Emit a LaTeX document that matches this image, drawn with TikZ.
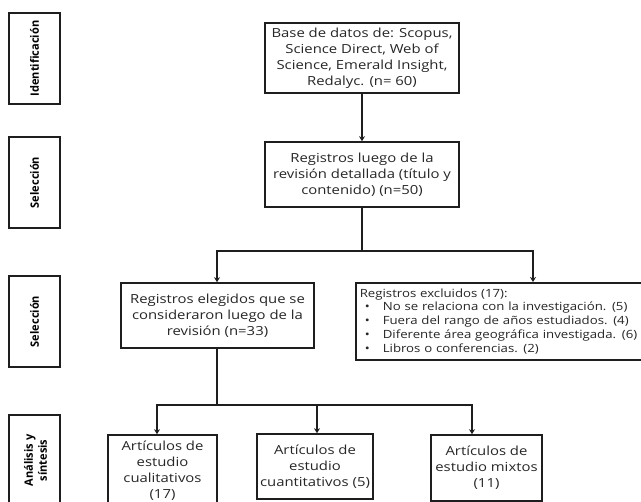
\documentclass[tikz,border=0pt]{standalone}
\usepackage{fontspec}
\setmainfont{Open Sans}
\newfontfamily\wideopen[FakeStretch=1.19]{Open Sans}
\newfontfamily\wideexcl[FakeStretch=1.17]{Open Sans}
\newfontfamily\condbf[FakeStretch=0.96]{Open Sans}
\usetikzlibrary{arrows.meta}
\definecolor{lc}{HTML}{1E1E1E}
\definecolor{tc}{HTML}{262626}
\begin{document}
\begin{tikzpicture}[x=1pt,y=-1pt,
  box/.style={draw=lc, line width=1.6pt, inner sep=0pt, align=center, text=tc,
    font=\wideopen\fontsize{12.5}{16}\selectfont},
  lab/.style={draw=lc, line width=1.6pt, minimum width=51pt, minimum height=91pt, inner sep=0pt},
  labtxt/.style={rotate=90, align=center, text=black, font=\condbf\bfseries\fontsize{11.5}{14}\selectfont},
  ln/.style={draw=lc, line width=1.6pt, line join=miter},
  arr/.style={ln, -{Stealth[length=5pt,width=6pt]}}]
\useasboundingbox (0,0) rectangle (641,502);
% stage labels
\node[lab] (l1) at (34.5,58.5) {};
\node[labtxt] (t1) at (l1.center) {Identificación};
\node[lab] (l2) at (34.5,182.5) {};
\node[labtxt] (t2) at (l2.center) {Selección};
\node[lab] (l3) at (34.5,321.5) {};
\node[labtxt] (t3) at (l3.center) {Selección};
\node[lab] (l4) at (34.5,460.5) {};
\node[labtxt] (t4) at (35.5,460.5) {Análisis y\\síntesis};
% flow boxes
\node[box, minimum width=194pt, minimum height=70pt] (base) at (362,58)
  {Base de datos de: Scopus,\\Science Direct, Web of\\Science, Emerald Insight,\\Redalyc. (n= 60)};
\node[box, minimum width=194pt, minimum height=65pt] (reg) at (362,174.5)
  {Registros luego de la\\revisión detallada (título y\\contenido) (n=50)};
\node[box, minimum width=193pt, minimum height=65pt] (eleg) at (217.5,315.5)
  {Registros elegidos que se\\consideraron luego de la\\revisión (n=33)};
\node[box, anchor=north west, minimum width=300pt, minimum height=77pt, text width=292pt,
  inner xsep=4pt, align=left, font=\wideexcl\fontsize{11.3}{13.7}\selectfont] (excl) at (355,282)
  {Registros excluidos (17):\\
   \hspace*{5pt}\makebox[18pt][l]{\textbullet}No se relaciona con la investigación. (5)\\
   \hspace*{5pt}\makebox[18pt][l]{\textbullet}Fuera del rango de años estudiados. (4)\\
   \hspace*{5pt}\makebox[18pt][l]{\textbullet}Diferente área geográfica investigada. (6)\\
   \hspace*{5pt}\makebox[18pt][l]{\textbullet}Libros o conferencias. (2)};
\node[box, minimum width=109pt, minimum height=71pt] (cual) at (162.5,470.5)
  {Artículos de\\estudio\\cualitativos\\(17)};
\node[box, minimum width=116pt, minimum height=65pt] (cuant) at (315,466.5)
  {Artículos de\\estudio\\cuantitativos (5)};
\node[box, minimum width=111pt, minimum height=66pt] (mix) at (486.5,468)
  {Artículos de\\estudio mixtos\\(11)};
% connectors
\draw[arr] (base.south) -- (reg.north);
\coordinate (j1) at (362,251);
\coordinate (j1l) at (217,251);
\coordinate (j1r) at (533,251);
\draw[ln] (reg.south) -- (j1);
\draw[arr] (j1) -- (j1l) -- (j1l |- eleg.north);
\draw[arr] (j1) -- (j1r) -- (j1r |- excl.north);
\coordinate (j2) at (217,405);
\coordinate (b1) at (157,405);
\coordinate (b2) at (317,405);
\coordinate (b3) at (472,405);
\draw[ln] (j2 |- eleg.south) -- (j2);
\draw[arr] (j2) -- (b1) -- (b1 |- cual.north);
\draw[arr] (j2) -- (b3) -- (b3 |- mix.north);
\draw[arr] (b2) -- (b2 |- cuant.north);
\end{tikzpicture}
\end{document}
